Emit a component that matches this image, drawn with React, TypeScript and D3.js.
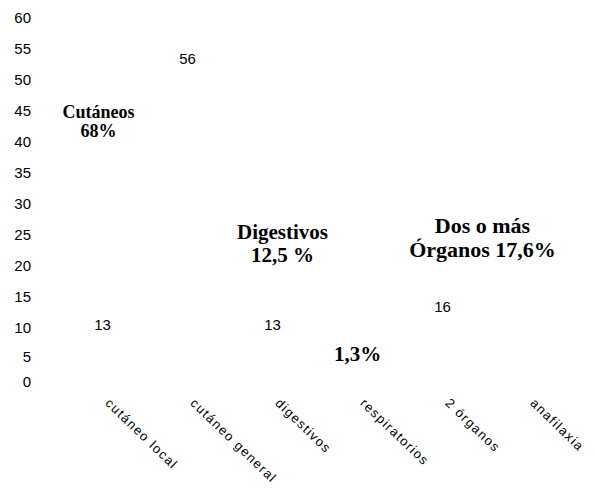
import React from "react";
import * as d3 from "d3";

const categories = ["cutáneo local", "cutáneo general", "digestivos", "respiratorios", "2 órganos", "anafilaxia"];
const values = [13, 56, 13, 1, 16, 0];
const valueLabels = ["13", "56", "13", "", "16", ""];
const yTicks = [0, 5, 10, 15, 20, 25, 30, 35, 40, 45, 50, 55, 60];

// group notes written over the chart: anchored to a category and a y value
const notes = [
    { lines: ["Cutáneos", "68%"], cat: 0, dx: -4, y: [44.6, 41.4], size: 18 },
    { lines: ["Digestivos", "12,5 %"], cat: 2, dx: 10, y: [25.1, 21.5], size: 21 },
    { lines: ["1,3%"], cat: 3, dx: 0, y: [5.2], size: 21 },
    { lines: ["Dos o más", "Órganos 17,6%"], cat: 4, dx: 40, y: [26.2, 22.2], size: 22 },
];

export default function App() {
    const width = 595;
    const height = 490;

    const x = d3.scaleBand<string>().domain(categories).range([60, 570]).paddingInner(0.3).paddingOuter(0.15);

    // axis spacing in the original is uneven near zero
    const y = d3.scaleLinear().domain([0, 5, 10, 60]).range([382, 357, 328, 18]);

    const cx = (c: string) => (x(c) ?? 0) + x.bandwidth() / 2;

    return (
        <div style={{ position: "absolute", left: 0, top: 0 }}>
            <svg width={width} height={height} style={{ display: "block", background: "#fff" }}>
                {/* y tick labels */}
                <g fontFamily="'Liberation Sans', Arial, sans-serif" fontSize={15} fill="#000">
                    {yTicks.map((t) => (
                        <text key={t} x={31} y={y(t) + 1} textAnchor="end" dominantBaseline="middle">
                            {t}
                        </text>
                    ))}
                </g>

                {/* bars (white in the original) */}
                <g>
                    {categories.map((c, i) => (
                        <rect
                            key={c}
                            x={x(c)}
                            y={y(values[i])}
                            width={x.bandwidth()}
                            height={y(0) - y(values[i])}
                            fill="#fff"
                        />
                    ))}
                </g>

                {/* value labels inside the bar tops */}
                <g fontFamily="'Liberation Sans', Arial, sans-serif" fontSize={15} fill="#000">
                    {categories.map((c, i) =>
                        valueLabels[i] ? (
                            <text key={c} x={cx(c)} y={y(values[i]) + 17} textAnchor="middle" dominantBaseline="middle">
                                {valueLabels[i]}
                            </text>
                        ) : null
                    )}
                </g>

                {/* category labels, rotated */}
                <g fontFamily="'Liberation Sans', Arial, sans-serif" fontSize={13} fill="#000" letterSpacing={1.4}>
                    {categories.map((c) => (
                        <text key={c} transform={`translate(${cx(c) + 2},${404}) rotate(44)`} textAnchor="start">
                            {c}
                        </text>
                    ))}
                </g>

                {/* notes */}
                <g fontFamily="'Liberation Serif', 'Times New Roman', serif" fontWeight="bold" fill="#000">
                    {notes.map((n, k) =>
                        n.lines.map((line, j) => (
                            <text
                                key={`${k}-${j}`}
                                x={cx(categories[n.cat]) + n.dx}
                                y={y(n.y[j])}
                                fontSize={n.size}
                                textAnchor="middle"
                                dominantBaseline="middle"
                            >
                                {line}
                            </text>
                        ))
                    )}
                </g>
            </svg>
        </div>
    );
}
